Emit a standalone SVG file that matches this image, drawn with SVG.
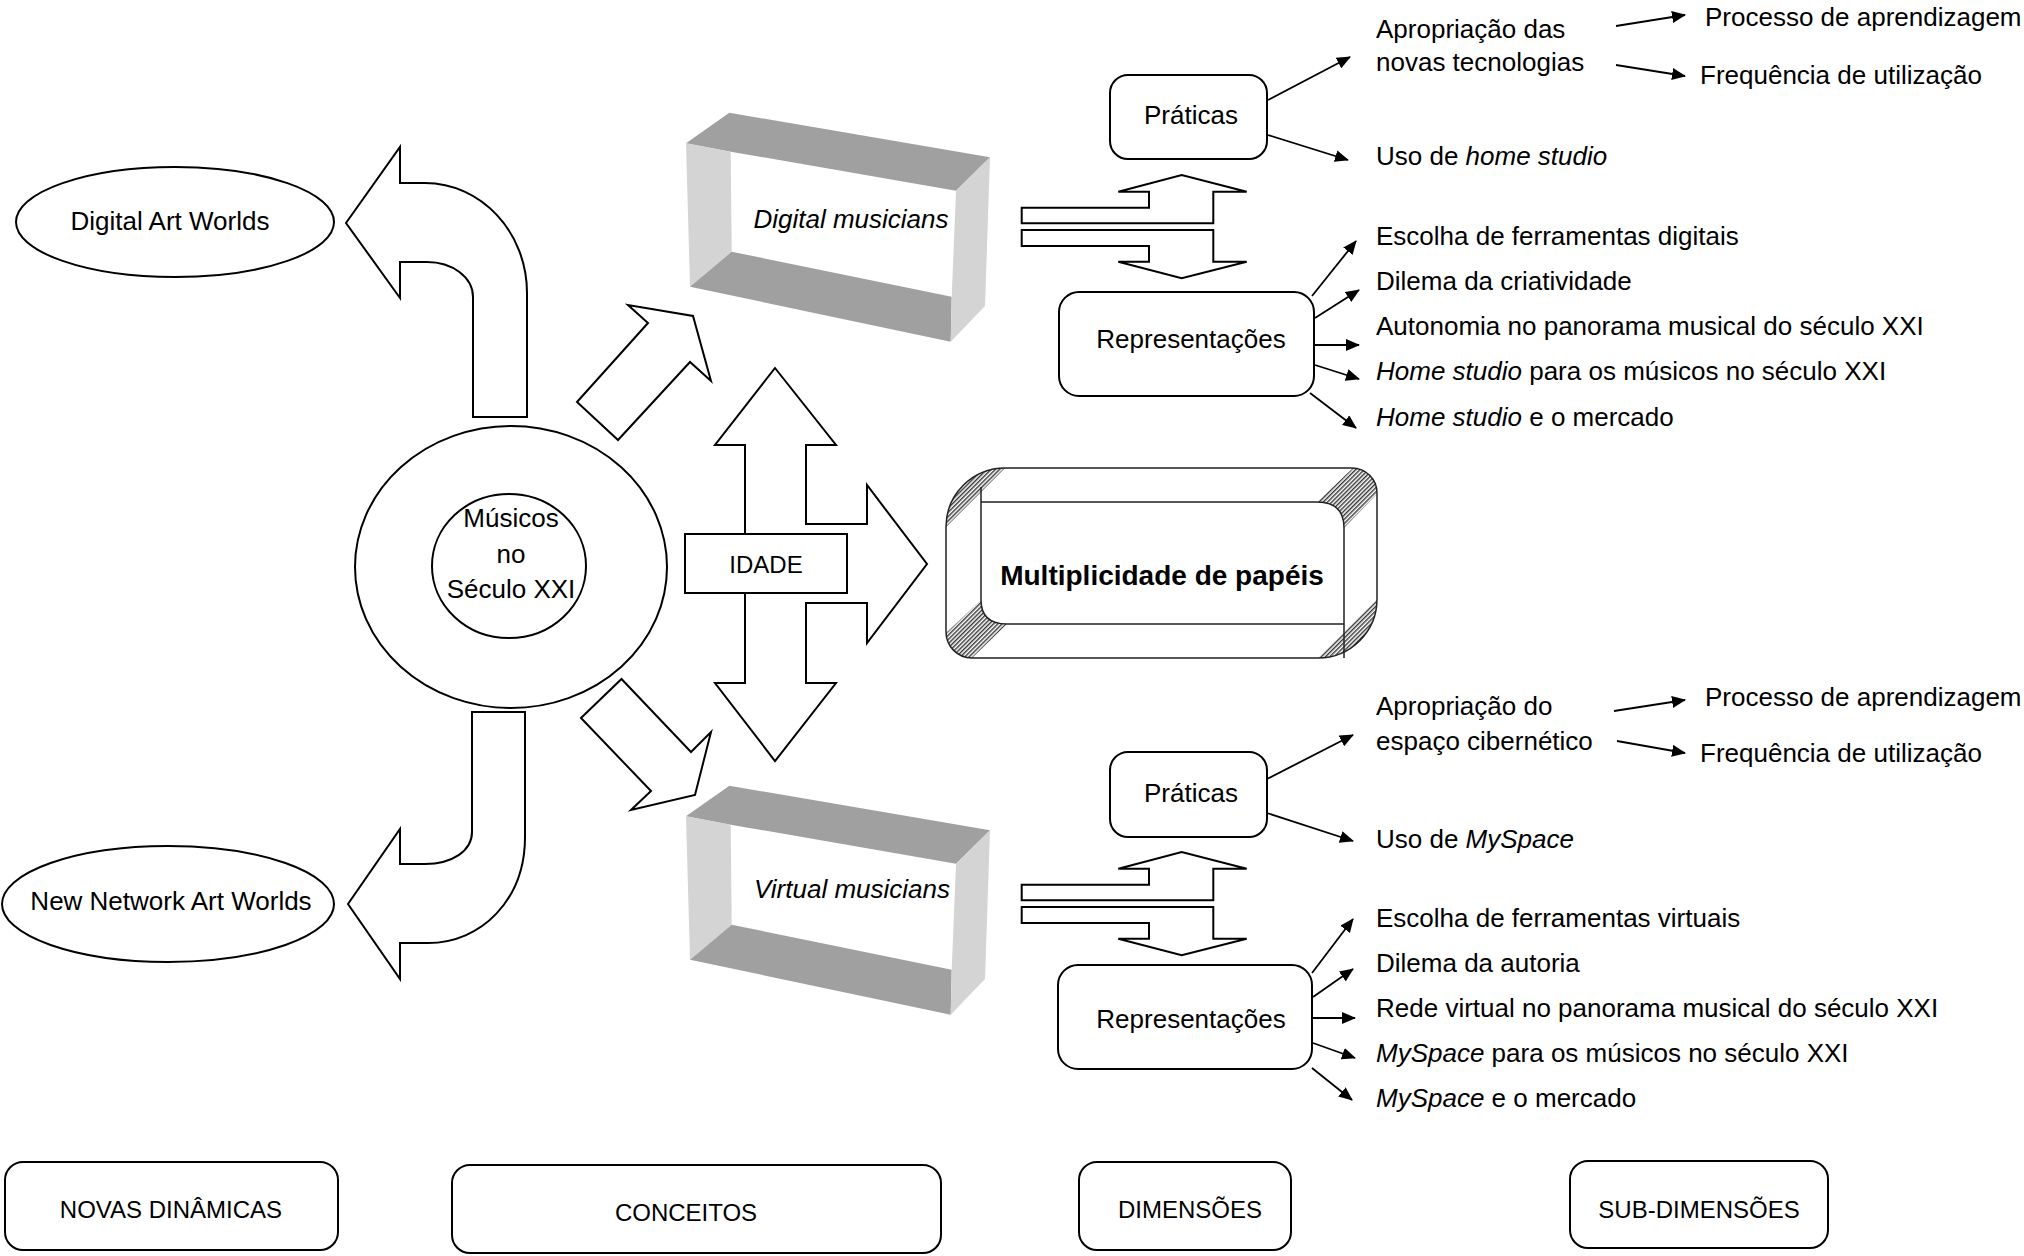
<svg xmlns="http://www.w3.org/2000/svg" width="2024" height="1256" viewBox="0 0 2024 1256">
<style>
text { font-family: "Liberation Sans", Arial, sans-serif; font-size: 26px; fill: #000; }
.c { text-anchor: middle; }
.i { font-style: italic; }
.b { font-weight: bold; font-size: 28px; }
.caps { font-size: 24px; }
.shape { fill: #fff; stroke: #000; stroke-width: 2; }
.blk { fill: #fff; stroke: #000; stroke-width: 2; stroke-linejoin: miter; }
.ln { stroke: #000; stroke-width: 1.8; fill: none; marker-end: url(#ah); }
.tb { fill: #a0a0a0; }
.sd { fill: #d4d4d4; }
.hatch { fill: url(#hatch); stroke: none; }
.thin { fill: none; stroke: #222; stroke-width: 1.5; }
</style>
<defs>
<marker id="ah" markerUnits="userSpaceOnUse" markerWidth="14" markerHeight="12" refX="13" refY="6" orient="auto"><path d="M0,0 L14,6 L0,12 Z" fill="#000"/></marker>
<pattern id="hatch" patternUnits="userSpaceOnUse" width="3" height="3" patternTransform="rotate(45)"><rect width="3" height="3" fill="#fff"/><line x1="0.75" y1="0" x2="0.75" y2="3" stroke="#222" stroke-width="1.3"/></pattern>
<clipPath id="bevclip"><path d="M 1005 468 L 1352 468 A 25 25 0 0 1 1377 493 L 1377 599 A 59 59 0 0 1 1318 658 L 972 658 A 26 26 0 0 1 946 632 L 946 527 A 59 59 0 0 1 1005 468 Z"/></clipPath>
<g id="frame">
<polygon class="tb" points="686,143.3 729.3,112.7 990,157.3 956,190.7 730.7,151.7"/>
<polygon class="sd" points="686,143.3 730.7,151.7 731.7,251.7 690,286.7"/>
<polygon class="tb" points="690,286.7 731.7,251.7 951.7,296.7 950.7,341.7"/>
<polygon class="sd" points="956,190.7 990,157.3 985,306 950.7,341.7 951.7,296.7"/>
</g>
</defs>
<rect width="2024" height="1256" fill="#fff"/>

<g id="connectors">
<path class="blk" d="M 346 223 L 400 147 L 400 183 L 425 183 C 481 183 527 232 527 293 L 527 417 L 473 417 L 473 297 C 473 277 452 262 427 262 L 400 262 L 400 298 Z"/>
<path class="blk" d="M 472 712 L 472 832 C 472 851 452 864 425 864 L 400 864 L 400 829 L 348 904 L 400 979 L 400 943 L 428 943 C 481 943 525 900 525 837 L 525 712 Z"/>
<polygon class="blk" points="577,402 648,323 628,305 693,316 711,381 690,362 618,440"/>
<polygon class="blk" points="581,718 621.5,679 691,752 711,732 695,795 631,810 651,791"/>
<polygon class="blk" points="775,368 836,445 806,445 806,524 867,524 867,485 927,564 867,643 867,603 806,603 806,683 836,683 775,761 715,683 745,683 745,445 715,445"/>
<polygon class="blk" points="1021.7,207.7 1149,207.7 1149,191.7 1118.3,191.7 1181.7,175 1246.7,191.7 1213.3,191.7 1213.3,223.3 1021.7,223.3"/>
<polygon class="blk" points="1021.7,230 1213.3,230 1213.3,261.7 1246.7,261.7 1181.7,278.3 1118.3,261.7 1149,261.7 1149,246 1021.7,246"/>
<polygon class="blk" points="1021.7,884.7 1149,884.7 1149,868.7 1118.3,868.7 1181.7,852 1246.7,868.7 1213.3,868.7 1213.3,900.3 1021.7,900.3"/>
<polygon class="blk" points="1021.7,907 1213.3,907 1213.3,938.7 1246.7,938.7 1181.7,955.3 1118.3,938.7 1149,938.7 1149,923 1021.7,923"/>
<line class="ln" x1="1268" y1="100" x2="1350" y2="57"/>
<line class="ln" x1="1268" y1="135" x2="1348" y2="160"/>
<line class="ln" x1="1616" y1="26" x2="1685" y2="15"/>
<line class="ln" x1="1616" y1="65" x2="1685" y2="76"/>
<line class="ln" x1="1312" y1="296" x2="1356" y2="241"/>
<line class="ln" x1="1315" y1="318" x2="1359" y2="290"/>
<line class="ln" x1="1315" y1="345" x2="1359" y2="345"/>
<line class="ln" x1="1315" y1="365" x2="1359" y2="379"/>
<line class="ln" x1="1310" y1="393" x2="1356" y2="428"/>
<line class="ln" x1="1267" y1="779" x2="1353" y2="735"/>
<line class="ln" x1="1267" y1="813" x2="1353" y2="841"/>
<line class="ln" x1="1614" y1="711" x2="1685" y2="700"/>
<line class="ln" x1="1617" y1="741" x2="1685" y2="753"/>
<line class="ln" x1="1312" y1="973" x2="1353" y2="919"/>
<line class="ln" x1="1313" y1="997" x2="1353" y2="969"/>
<line class="ln" x1="1313" y1="1018" x2="1355" y2="1018"/>
<line class="ln" x1="1313" y1="1043" x2="1355" y2="1058"/>
<line class="ln" x1="1312" y1="1068" x2="1352" y2="1100"/>
</g>

<g id="digital-art-worlds">
<ellipse class="shape" cx="175" cy="222" rx="159" ry="55"/>
<text class="c" x="170" y="230">Digital Art Worlds</text>
</g>
<g id="new-network-art-worlds">
<ellipse class="shape" cx="168" cy="904" rx="166" ry="58"/>
<text class="c" x="171" y="910">New Network Art Worlds</text>
</g>
<g id="musicos">
<ellipse class="shape" cx="511" cy="567" rx="156" ry="141"/>
<ellipse class="shape" cx="509" cy="566" rx="77" ry="72"/>
<text class="c" x="511" y="527">Músicos</text>
<text class="c" x="511" y="563">no</text>
<text class="c" x="511" y="598">Século XXI</text>
</g>
<g id="idade">
<rect class="shape" x="685" y="534" width="162" height="59"/>
<text class="c caps" x="766" y="573">IDADE</text>
</g>
<g id="digital-musicians">
<use href="#frame"/>
<text class="c i" x="851" y="228">Digital musicians</text>
</g>
<g id="virtual-musicians">
<use href="#frame" y="673"/>
<text class="c i" x="852" y="898">Virtual musicians</text>
</g>
<g id="multiplicidade">
<path d="M 1005 468 L 1352 468 A 25 25 0 0 1 1377 493 L 1377 599 A 59 59 0 0 1 1318 658 L 972 658 A 26 26 0 0 1 946 632 L 946 527 A 59 59 0 0 1 1005 468 Z" fill="#fff"/>
<g clip-path="url(#bevclip)">
<path class="hatch" d="M 1005 468 A 59 59 0 0 0 946 527 Z"/>
<path class="hatch" d="M 1318 658 A 59 59 0 0 0 1377 599 Z"/>
<path class="hatch" d="M 1317 502 L 1353 468 L 1377 468 L 1377 494 L 1344 528 Q 1344 502 1317 502 Z"/>
<path class="hatch" d="M 981 600 L 946 633 L 946 658 L 972 658 L 1007 624 Q 981 624 981 600 Z"/>
</g>
<path class="thin" d="M 1005 468 L 1352 468 A 25 25 0 0 1 1377 493 L 1377 599 A 59 59 0 0 1 1318 658 L 972 658 A 26 26 0 0 1 946 632 L 946 527 A 59 59 0 0 1 1005 468 Z"/>
<path class="thin" d="M 981 487 L 981 600 Q 981 624 1007 624 L 1344 624 M 981 502 L 1317 502 Q 1344 502 1344 528 L 1344 658"/>
<text class="c b" x="1162" y="585">Multiplicidade de papéis</text>
</g>

<g id="praticas-digital">
<rect class="shape" x="1110" y="75" width="157" height="84" rx="18"/>
<text class="c" x="1191" y="124">Práticas</text>
</g>
<g id="representacoes-digital">
<rect class="shape" x="1059" y="292" width="255" height="104" rx="20"/>
<text class="c" x="1191" y="348">Representações</text>
</g>
<g id="praticas-virtual">
<rect class="shape" x="1110" y="752" width="157" height="85" rx="18"/>
<text class="c" x="1191" y="802">Práticas</text>
</g>
<g id="representacoes-virtual">
<rect class="shape" x="1058" y="965" width="254" height="104" rx="20"/>
<text class="c" x="1191" y="1028">Representações</text>
</g>

<g id="sub-digital">
<text x="1376" y="38">Apropriação das</text>
<text x="1376" y="71">novas tecnologias</text>
<text x="1376" y="165">Uso de <tspan class="i">home studio</tspan></text>
<text x="1705" y="26">Processo de aprendizagem</text>
<text x="1700" y="84">Frequência de utilização</text>
<text x="1376" y="245">Escolha de ferramentas digitais</text>
<text x="1376" y="290">Dilema da criatividade</text>
<text x="1376" y="335">Autonomia no panorama musical do século XXI</text>
<text x="1376" y="380"><tspan class="i">Home studio</tspan> para os músicos no século XXI</text>
<text x="1376" y="426"><tspan class="i">Home studio</tspan> e o mercado</text>
</g>
<g id="sub-virtual">
<text x="1376" y="715">Apropriação do</text>
<text x="1376" y="750">espaço cibernético</text>
<text x="1376" y="848">Uso de <tspan class="i">MySpace</tspan></text>
<text x="1705" y="706">Processo de aprendizagem</text>
<text x="1700" y="762">Frequência de utilização</text>
<text x="1376" y="927">Escolha de ferramentas virtuais</text>
<text x="1376" y="972">Dilema da autoria</text>
<text x="1376" y="1017">Rede virtual no panorama musical do século XXI</text>
<text x="1376" y="1062"><tspan class="i">MySpace</tspan> para os músicos no século XXI</text>
<text x="1376" y="1107"><tspan class="i">MySpace</tspan> e o mercado</text>
</g>

<g id="legend-novas-dinamicas">
<rect class="shape" x="5" y="1162" width="333" height="88" rx="18"/>
<text class="c caps" x="171" y="1218">NOVAS DINÂMICAS</text>
</g>
<g id="legend-conceitos">
<rect class="shape" x="452" y="1165" width="489" height="88" rx="18"/>
<text class="c caps" x="686" y="1221">CONCEITOS</text>
</g>
<g id="legend-dimensoes">
<rect class="shape" x="1079" y="1162" width="212" height="88" rx="18"/>
<text class="c caps" x="1190" y="1218">DIMENSÕES</text>
</g>
<g id="legend-sub-dimensoes">
<rect class="shape" x="1570" y="1161" width="258" height="87" rx="18"/>
<text class="c caps" x="1699" y="1218">SUB-DIMENSÕES</text>
</g>
</svg>
